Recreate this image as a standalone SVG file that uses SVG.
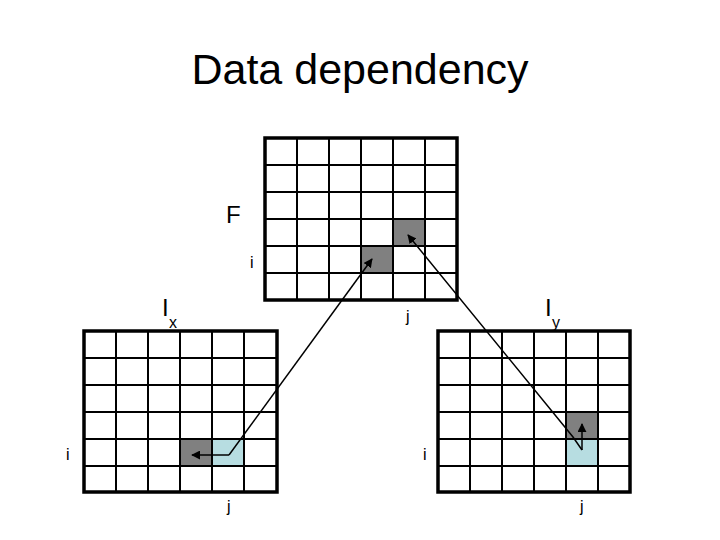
<svg xmlns="http://www.w3.org/2000/svg" width="720" height="540" viewBox="0 0 720 540">
<defs>
<style>
text{font-family:"Liberation Sans",Arial,sans-serif;fill:#000}
.g{stroke:#000;stroke-width:2;fill:none}
.b{stroke:#000;stroke-width:3.5;fill:none}
.c{stroke:#000;stroke-width:1.5;fill:none}
</style>
<marker id="a" viewBox="0 0 10 10" refX="9" refY="5" markerWidth="6" markerHeight="6" orient="auto"><path d="M0,0L10,5L0,10z" fill="#000"/></marker>
</defs>
<rect width="720" height="540" fill="#fff"/>
<text x="360" y="84" font-size="43" text-anchor="middle">Data dependency</text>
<g id="F">
<rect x="361" y="245" width="32" height="27" fill="#808080"/>
<rect x="393" y="218" width="32" height="27" fill="#808080"/>
<path class="g" d="M297,138V300M329,138V300M361,138V300M393,138V300M425,138V300M265,165H457M265,192H457M265,219H457M265,246H457M265,273H457"/>
<rect class="b" x="265" y="138" width="192" height="162"/>
<text x="226" y="223" font-size="24">F</text>
<text x="250" y="268" font-size="16">i</text>
<text x="406" y="322" font-size="16">j</text>
</g>
<g id="Ix">
<rect x="180" y="439" width="32" height="27" fill="#808080"/>
<rect x="212" y="439" width="32" height="27" fill="#b7dde1"/>
<path class="g" d="M116,331V492M148,331V492M180,331V492M212,331V492M244,331V492M84,358H277M84,385H277M84,412H277M84,439H277M84,466H277"/>
<rect class="b" x="84" y="331" width="193" height="161"/>
<text x="162" y="316" font-size="24">I</text><text x="169" y="328" font-size="16">x</text>
<text x="66" y="460" font-size="16">i</text>
<text x="227" y="512" font-size="16">j</text>
</g>
<g id="Iy">
<rect x="566" y="412" width="32" height="27" fill="#808080"/>
<rect x="566" y="439" width="32" height="27" fill="#b7dde1"/>
<path class="g" d="M470,331V492M502,331V492M534,331V492M566,331V492M598,331V492M438,358H630M438,385H630M438,412H630M438,439H630M438,466H630"/>
<rect class="b" x="438" y="331" width="192" height="161"/>
<text x="545" y="316" font-size="24">I</text><text x="552" y="328" font-size="16">y</text>
<text x="423" y="460" font-size="16">i</text>
<text x="580" y="512" font-size="16">j</text>
</g>
<g id="connectors">
<polyline class="c" points="229,455 192,455" marker-end="url(#a)"/>
<polyline class="c" points="229,455 372,259" marker-end="url(#a)"/>
<polyline class="c" points="582,450 582,424" marker-end="url(#a)"/>
<polyline class="c" points="582,450 573,437 408,235" marker-end="url(#a)"/>
</g>
</svg>
